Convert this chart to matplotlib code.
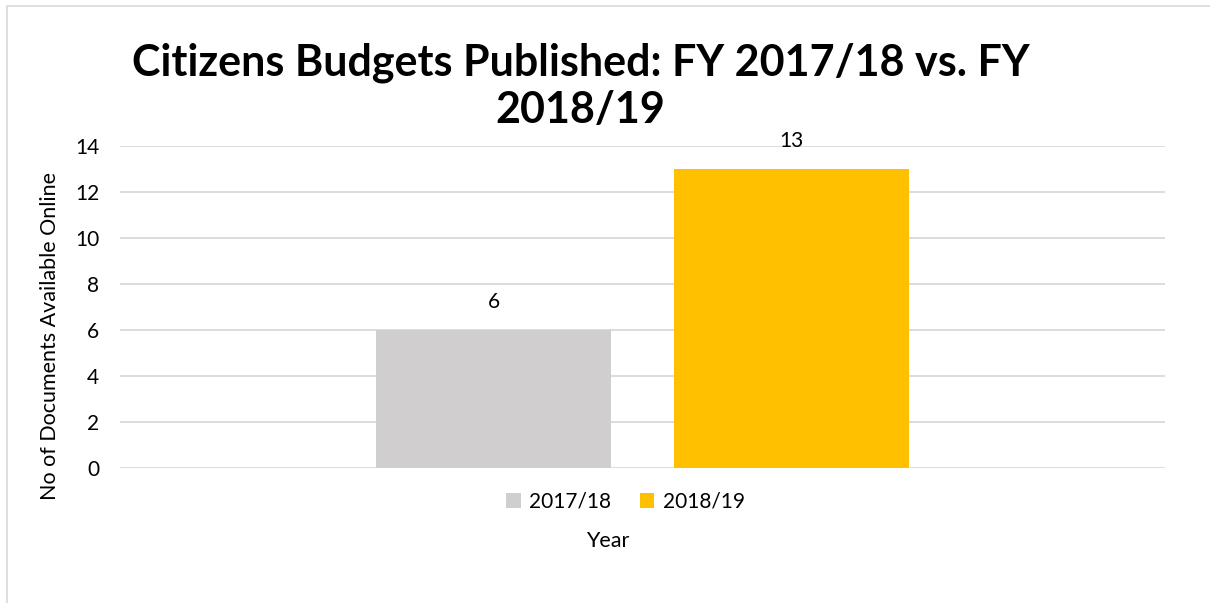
import matplotlib.pyplot as plt
from matplotlib.patches import Rectangle

plt.rcParams['font.family'] = ['Lato', 'DejaVu Sans']

# Data
series = ['2017/18', '2018/19']
values = [6, 13]
colors = ['#d0cece', '#ffc000']
offsets = [-0.1425, 0.1425]
yticks = [0, 2, 4, 6, 8, 10, 12, 14]

fig = plt.figure(figsize=(12.10, 6.03), dpi=100)
ax = fig.add_axes([0.0992, 0.2239, 0.8636, 0.534])

for name, v, c, off in zip(series, values, colors, offsets):
    bars = ax.bar(off, v, width=0.225, color=c, label=name, zorder=2)
    ax.bar_label(bars, padding=13, fontsize=15, color='#000000')

ax.set_xlim(-0.5, 0.5)
ax.set_ylim(0, 14)
ax.set_yticks(yticks)
ax.set_xticks([])
ax.tick_params(axis='y', length=0, labelsize=15, pad=15)
ax.grid(axis='y', color='#d9d9d9', linewidth=1.3, zorder=0)
for s in ax.spines.values():
    s.set_visible(False)

ax.set_ylabel('No of Documents Available Online', fontsize=15.5)
ax.yaxis.set_label_coords(-0.0574, 0.41)
fig.text(0.502, 0.103, 'Year', fontsize=15.5, ha='center', va='center')

fig.text(0.48, 0.857, 'Citizens Budgets Published: FY 2017/18 vs. FY\n2018/19',
         fontsize=31, fontweight='bold', ha='center', va='center', linespacing=1.22)

fig.legend(loc='center', bbox_to_anchor=(0.517, 0.168), ncol=2, frameon=False,
           fontsize=15, handlelength=0.7, handleheight=0.7, handletextpad=0.4,
           columnspacing=1.37)

# light chart border
fig.add_artist(Rectangle((7 / 1210, -0.1), 1.2, 1 - 6 / 603 + 0.1,
                         transform=fig.transFigure, fill=False,
                         edgecolor='#d9d9d9', linewidth=1.2))

fig.savefig('out.png', dpi=100)
